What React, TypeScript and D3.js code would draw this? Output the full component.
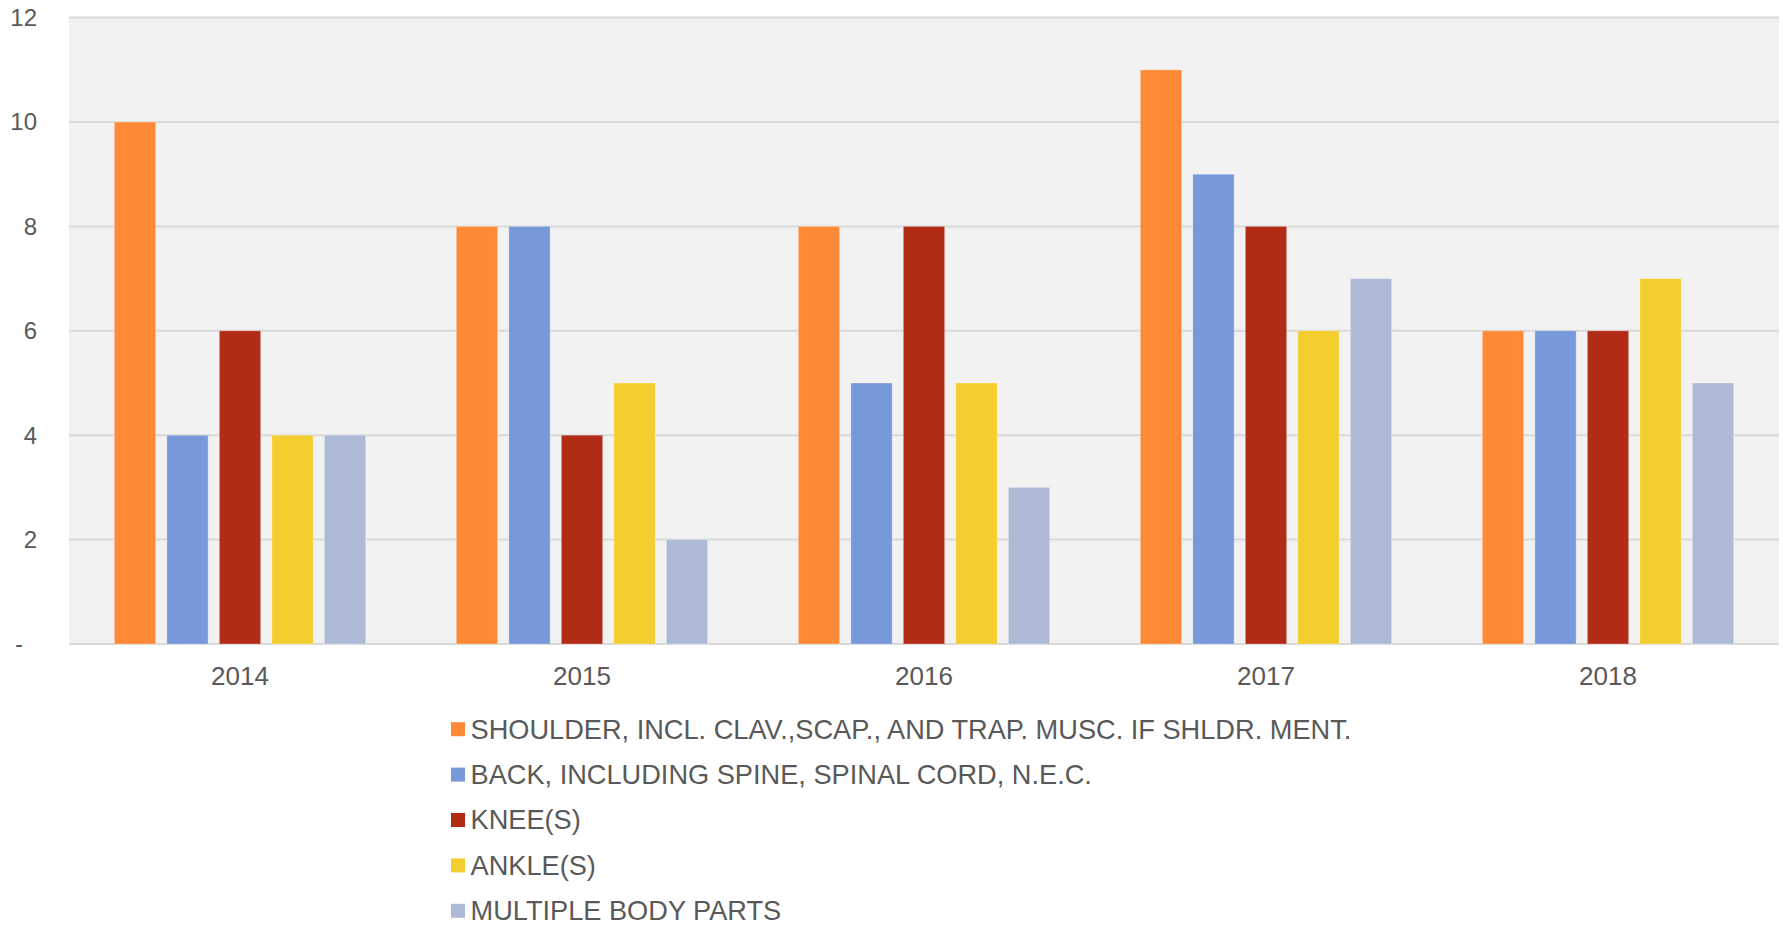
import * as d3 from "d3";
import { useEffect, useRef } from "react";

const years = ["2014", "2015", "2016", "2017", "2018"];
const seriesNames = [
  "SHOULDER, INCL. CLAV.,SCAP., AND TRAP. MUSC. IF SHLDR. MENT.",
  "BACK, INCLUDING SPINE, SPINAL CORD, N.E.C.",
  "KNEE(S)",
  "ANKLE(S)",
  "MULTIPLE BODY PARTS",
];
const shoulder = [10, 8, 8, 11, 6];
const back = [4, 8, 5, 9, 6];
const knee = [6, 4, 8, 8, 6];
const ankle = [4, 5, 5, 6, 7];
const multiple = [4, 2, 3, 7, 5];
const yTicks = [0, 2, 4, 6, 8, 10, 12];
const colors = ["#FE8A38", "#7799D9", "#B22B17", "#F4CD2E", "#ADB9D6"];

const W = 1783;
const H = 926;

export default function App() {
  const ref = useRef<SVGSVGElement | null>(null);

  useEffect(() => {
    const svg = d3.select(ref.current);
    svg.selectAll("*").remove();

    const values = [shoulder, back, knee, ankle, multiple];
    const left = 69;
    const right = 1779;
    const top = 17.6;
    const bottom = 644;

    const x0 = d3.scaleBand<string>().domain(years).range([left, right]).padding(0);
    const x1 = d3
      .scaleBand<number>()
      .domain(d3.range(seriesNames.length))
      .range([0, x0.bandwidth()])
      .paddingInner(0.213)
      .paddingOuter(0.863);
    const y = d3.scaleLinear().domain([0, 12]).range([bottom, top]);

    // plot area background
    svg
      .append("rect")
      .attr("x", left)
      .attr("y", top)
      .attr("width", right - left)
      .attr("height", bottom - top)
      .attr("fill", "#F2F2F2");

    // gridlines
    svg
      .append("g")
      .selectAll("line")
      .data(yTicks)
      .join("line")
      .attr("x1", left)
      .attr("x2", right)
      .attr("y1", (d) => y(d))
      .attr("y2", (d) => y(d))
      .attr("stroke", "#D9D9D9")
      .attr("stroke-width", 2);

    // y labels
    svg
      .append("g")
      .selectAll("text")
      .data(yTicks)
      .join("text")
      .attr("x", (d) => (d === 0 ? 23 : 37))
      .attr("y", (d) => y(d))
      .attr("dy", "0.35em")
      .attr("text-anchor", "end")
      .attr("fill", "#595959")
      .style("font-family", "Liberation Sans, Arial, sans-serif")
      .style("font-size", "24px")
      .text((d) => (d === 0 ? "-" : String(d)));

    // bars
    const groups = svg
      .append("g")
      .selectAll("g")
      .data(years)
      .join("g")
      .attr("transform", (d) => `translate(${x0(d)},0)`);

    groups
      .selectAll("rect")
      .data((_, i) => values.map((s, k) => ({ k, v: s[i] })))
      .join("rect")
      .attr("x", (d) => x1(d.k)!)
      .attr("width", x1.bandwidth())
      .attr("y", (d) => y(d.v))
      .attr("height", (d) => y(0) - y(d.v))
      .attr("fill", (d) => colors[d.k])
      .attr("stroke", "#fff")
      .attr("stroke-opacity", 0.3)
      .attr("stroke-width", 1);

    // x labels
    svg
      .append("g")
      .selectAll("text")
      .data(years)
      .join("text")
      .attr("x", (d) => x0(d)! + x0.bandwidth() / 2)
      .attr("y", 685)
      .attr("text-anchor", "middle")
      .attr("fill", "#595959")
      .style("font-family", "Liberation Sans, Arial, sans-serif")
      .style("font-size", "26px")
      .text((d) => d);

    // legend
    const legend = svg
      .append("g")
      .selectAll("g")
      .data(seriesNames)
      .join("g")
      .attr("transform", (_, i) => `translate(451,${729.2 + i * 45.4})`);

    legend
      .append("rect")
      .attr("x", 0)
      .attr("y", -7)
      .attr("width", 14)
      .attr("height", 14)
      .attr("fill", (_, i) => colors[i]);

    legend
      .append("text")
      .attr("x", 19.5)
      .attr("y", 9.3)
      .attr("fill", "#595959")
      .style("font-family", "Liberation Sans, Arial, sans-serif")
      .style("font-size", "27.2px")
      .text((d) => d);
  }, []);

  return (
    <svg
      ref={ref}
      width={W}
      height={H}
      style={{ position: "absolute", left: 0, top: 0, background: "#fff" }}
    />
  );
}
